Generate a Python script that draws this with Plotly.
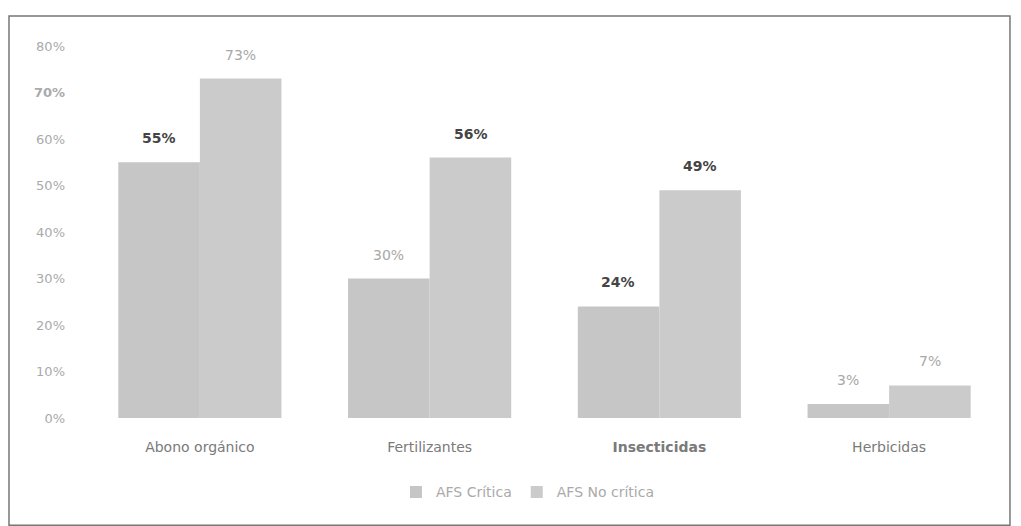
import plotly.graph_objects as go

categorias = ["Abono orgánico", "Fertilizantes", "Insecticidas", "Herbicidas"]
etiquetas_cat = ["Abono orgánico", "Fertilizantes", "<b>Insecticidas</b>", "Herbicidas"]
critica = [0.55, 0.30, 0.24, 0.03]
no_critica = [0.73, 0.56, 0.49, 0.07]
series = ["AFS Crítica", "AFS No crítica"]
ticks_y = [0, 0.1, 0.2, 0.3, 0.4, 0.5, 0.6, 0.7, 0.8]
ticks_y_txt = ["0%", "10%", "20%", "30%", "40%", "50%", "60%", "<b>70%</b>", "80%"]

# labels that came out dark/bold in the scan
negrita_critica = [True, False, True, False]
negrita_no_critica = [False, True, True, False]

fig = go.Figure()
fig.add_trace(go.Bar(x=categorias, y=critica, name=series[0],
                     marker=dict(color="#c6c6c6", line_width=0)))
fig.add_trace(go.Bar(x=categorias, y=no_critica, name=series[1],
                     marker=dict(color="#cbcbcb", line_width=0)))

def etiqueta(v, bold):
    t = f"{round(v * 100)}%"
    return f"<b>{t}</b>" if bold else t

for vals, bolds, shift in [(critica, negrita_critica, -41), (no_critica, negrita_no_critica, 41)]:
    for c, v, b in zip(categorias, vals, bolds):
        fig.add_annotation(x=c, y=v, text=etiqueta(v, b), showarrow=False,
                           xshift=shift, yshift=14, yanchor="bottom",
                           font=dict(size=14, color="#444444" if b else "#a8a8a8"))

fig.update_layout(
    width=1013, height=518,
    margin=dict(l=77, r=17, t=38, b=108),
    paper_bgcolor="white", plot_bgcolor="white",
    barmode="group", bargap=0.29, bargroupgap=0,
    font=dict(family="DejaVu Sans", size=12, color="#9a9a9a"),
    showlegend=True,
    legend=dict(orientation="h", x=0.482, xanchor="center", y=-0.2, yanchor="middle",
                font=dict(size=14, color="#aaaaaa"), itemwidth=30),
    shapes=[dict(type="rect", xref="paper", yref="paper",
                 x0=-0.0827, x1=1.0065, y0=-0.288, y1=1.0806,
                 line=dict(color="#777777", width=1.5))],
)
fig.update_xaxes(tickvals=categorias, ticktext=etiquetas_cat, showgrid=False,
                 showline=False, ticks="", ticklabelstandoff=19,
                 tickfont=dict(size=14, color="#7a7a7a"))
fig.update_yaxes(range=[0, 0.8], tickvals=ticks_y, ticktext=ticks_y_txt,
                 showgrid=False, zeroline=False, showline=False, ticks="",
                 ticklabelstandoff=19, tickfont=dict(size=13, color="#aaaaaa"))

fig.write_html("out.html")
